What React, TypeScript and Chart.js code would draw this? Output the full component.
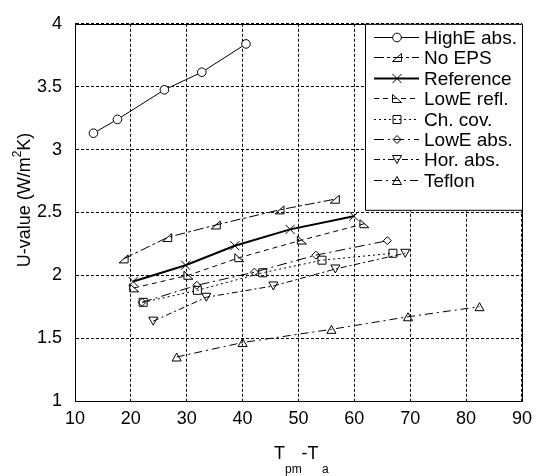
import React, { useEffect, useRef } from "react";
import { Chart, registerables } from "chart.js";

Chart.register(...registerables);

const seriesNames = ["HighE abs.", "No EPS", "Reference", "LowE refl.", "Ch. cov.", "LowE abs.", "Hor. abs.", "Teflon"];

const highEX = [13.3, 17.6, 26.0, 32.7, 40.6];
const highEY = [3.13, 3.24, 3.475, 3.615, 3.84];
const noEpsX = [18.7, 26.5, 35.2, 46.6, 56.5];
const noEpsY = [2.13, 2.3, 2.4, 2.52, 2.605];
const referenceX = [20.4, 29.8, 38.6, 48.5, 59.9];
const referenceY = [1.95, 2.08, 2.235, 2.365, 2.47];
const lowEReflX = [20.6, 30.3, 39.4, 50.6, 61.8];
const lowEReflY = [1.9, 2.0, 2.14, 2.28, 2.41];
const chCovX = [22.2, 31.9, 43.6, 54.2, 66.9];
const chCovY = [1.785, 1.88, 2.02, 2.12, 2.175];
const lowEAbsX = [22.0, 31.8, 42.1, 53.1, 65.9];
const lowEAbsY = [1.785, 1.92, 2.025, 2.16, 2.275];
const horAbsX = [24.0, 33.5, 45.5, 56.6, 69.1];
const horAbsY = [1.635, 1.825, 1.915, 2.05, 2.175];
const teflonX = [28.2, 40.0, 55.9, 69.6, 82.4];
const teflonY = [1.35, 1.465, 1.57, 1.67, 1.75];

const xTicks = [10, 20, 30, 40, 50, 60, 70, 80, 90];
const yTicks = [1, 1.5, 2, 2.5, 3, 3.5, 4];

const FONT = "'Liberation Sans', Arial, sans-serif";

const allX = [highEX, noEpsX, referenceX, lowEReflX, chCovX, lowEAbsX, horAbsX, teflonX];
const allY = [highEY, noEpsY, referenceY, lowEReflY, chCovY, lowEAbsY, horAbsY, teflonY];
const markers = ["circle", "ltri", "x", "rtri", "square", "diamond", "dtri", "utri"];
const dashes: number[][] = [[], [10, 3, 3, 3], [], [5, 4], [2, 3], [10, 4, 2, 4], [6, 3, 2, 3], [8, 4, 2, 4]];
const widths = [1, 1, 2, 1, 1, 1, 1, 1];

function drawMarker(ctx: CanvasRenderingContext2D, kind: string, x: number, y: number) {
  ctx.save();
  ctx.setLineDash([]);
  ctx.lineWidth = 1;
  ctx.strokeStyle = "#000";
  ctx.fillStyle = "#fff";
  ctx.beginPath();
  const s = 4.5;
  switch (kind) {
    case "circle":
      ctx.arc(x, y, 4.3, 0, Math.PI * 2);
      ctx.fill();
      break;
    case "ltri":
      ctx.moveTo(x - s, y + 4);
      ctx.lineTo(x + s, y + 4);
      ctx.lineTo(x + s, y - 4);
      ctx.closePath();
      break;
    case "rtri":
      ctx.moveTo(x - s, y - 4);
      ctx.lineTo(x - s, y + 4);
      ctx.lineTo(x + s, y + 4);
      ctx.closePath();
      break;
    case "x":
      ctx.moveTo(x - s, y - s);
      ctx.lineTo(x + s, y + s);
      ctx.moveTo(x - s, y + s);
      ctx.lineTo(x + s, y - s);
      break;
    case "square":
      ctx.rect(x - 4, y - 4, 8, 8);
      break;
    case "diamond":
      ctx.moveTo(x, y - 4);
      ctx.lineTo(x + 4, y);
      ctx.lineTo(x, y + 4);
      ctx.lineTo(x - 4, y);
      ctx.closePath();
      break;
    case "dtri":
      ctx.moveTo(x - s, y - 4);
      ctx.lineTo(x + s, y - 4);
      ctx.lineTo(x, y + 4);
      ctx.closePath();
      break;
    case "utri":
      ctx.moveTo(x - s, y + 4);
      ctx.lineTo(x + s, y + 4);
      ctx.lineTo(x, y - 4);
      ctx.closePath();
      break;
  }
  ctx.stroke();
  ctx.restore();
}

const decorPlugin = {
  id: "decor",
  afterDatasetsDraw(chart: any) {
    const ctx = chart.ctx as CanvasRenderingContext2D;
    chart.data.datasets.forEach((_: any, i: number) => {
      const meta = chart.getDatasetMeta(i);
      meta.data.forEach((pt: any) => drawMarker(ctx, markers[i], pt.x, pt.y));
    });
  },
  afterDraw(chart: any) {
    const ctx = chart.ctx as CanvasRenderingContext2D;
    const a = chart.chartArea;
    ctx.save();
    // frame
    ctx.strokeStyle = "#000";
    ctx.lineWidth = 1;
    ctx.setLineDash([]);
    ctx.strokeRect(Math.round(a.left) + 0.5, Math.round(a.top) + 0.5, Math.round(a.right - a.left), Math.round(a.bottom - a.top));

    // legend
    const lx = 365, ly = a.top, lw = Math.round(a.right) - 365, lh = 186;
    ctx.fillStyle = "#fff";
    ctx.fillRect(lx + 0.5, ly + 0.5, lw, lh);
    ctx.strokeRect(lx + 0.5, ly + 0.5, lw, lh);
    ctx.font = `19px ${FONT}`;
    ctx.textBaseline = "middle";
    ctx.textAlign = "left";
    seriesNames.forEach((name, i) => {
      const y = Math.round(37 + i * 20.4) + 0.5;
      ctx.save();
      ctx.strokeStyle = "#000";
      ctx.lineWidth = widths[i];
      ctx.setLineDash(dashes[i]);
      ctx.beginPath();
      ctx.moveTo(374, y);
      ctx.lineTo(419, y);
      ctx.stroke();
      ctx.restore();
      drawMarker(ctx, markers[i], 397, y);
      ctx.fillStyle = "#000";
      ctx.fillText(name, 424, y + 1);
    });

    // y title
    ctx.save();
    ctx.translate(24, 200);
    ctx.rotate(-Math.PI / 2);
    ctx.fillStyle = "#000";
    ctx.textBaseline = "alphabetic";
    const big = `18px ${FONT}`;
    const small = `12px ${FONT}`;
    const p1 = "U-value (W/m";
    const p2 = "2";
    const p3 = "K)";
    ctx.font = big;
    const w1 = ctx.measureText(p1).width;
    const w3 = ctx.measureText(p3).width;
    ctx.font = small;
    const w2 = ctx.measureText(p2).width;
    const total = w1 + w2 + w3;
    let cx = -total / 2;
    ctx.font = big;
    ctx.fillText(p1, cx, 6);
    cx += w1;
    ctx.font = small;
    ctx.fillText(p2, cx, -3);
    cx += w2;
    ctx.font = big;
    ctx.fillText(p3, cx, 6);
    ctx.restore();

    // x title
    ctx.fillStyle = "#000";
    ctx.textBaseline = "alphabetic";
    ctx.textAlign = "left";
    ctx.font = big;
    ctx.fillText("T", 274, 459);
    ctx.font = small;
    ctx.fillText("pm", 285, 473);
    ctx.font = big;
    ctx.fillText("-T", 301.5, 459);
    ctx.font = small;
    ctx.fillText("a", 322, 473);
    ctx.restore();
  },
};

export default function App() {
  const ref = useRef<HTMLCanvasElement | null>(null);
  useEffect(() => {
    if (!ref.current) return;
    const datasets = seriesNames.map((name, i) => ({
      label: name,
      data: allX[i].map((x, j) => ({ x, y: allY[i][j] })),
      showLine: true,
      borderColor: "#000",
      borderWidth: widths[i],
      borderDash: dashes[i],
      pointRadius: 0,
      pointHoverRadius: 0,
      fill: false,
      tension: 0,
    }));
    const chart = new Chart(ref.current, {
      type: "scatter",
      data: { datasets },
      options: {
        animation: false,
        responsive: false,
        events: [],
        layout: { padding: { left: 0, right: 11, top: 17, bottom: 0 } },
        plugins: { legend: { display: false }, tooltip: { enabled: false }, title: { display: false } },
        scales: {
          x: {
            type: "linear",
            min: 10,
            max: 90,
            afterBuildTicks: (s: any) => { s.ticks = xTicks.map((v) => ({ value: v })); },
            afterFit: (s: any) => { s.height = 75; },
            ticks: { color: "#000", font: { family: FONT, size: 18 }, padding: 7, maxRotation: 0 },
            grid: { color: "#000", lineWidth: 1, drawTicks: false },
            border: { display: true, color: "#000", dash: [3, 2] },
          },
          y: {
            type: "linear",
            min: 1,
            max: 4,
            afterBuildTicks: (s: any) => { s.ticks = yTicks.map((v) => ({ value: v })); },
            afterFit: (s: any) => { s.width = 75; },
            ticks: { color: "#000", font: { family: FONT, size: 18 }, padding: 13, callback: (v: any) => String(v) },
            grid: { color: "#000", lineWidth: 1, drawTicks: false },
            border: { display: true, color: "#000", dash: [3, 2] },
          },
        },
      },
      plugins: [decorPlugin],
    });
    return () => chart.destroy();
  }, []);
  return (
    <canvas
      ref={ref}
      width={539}
      height={476}
      style={{ position: "absolute", left: 0, top: 0, width: 539, height: 476 }}
    />
  );
}
